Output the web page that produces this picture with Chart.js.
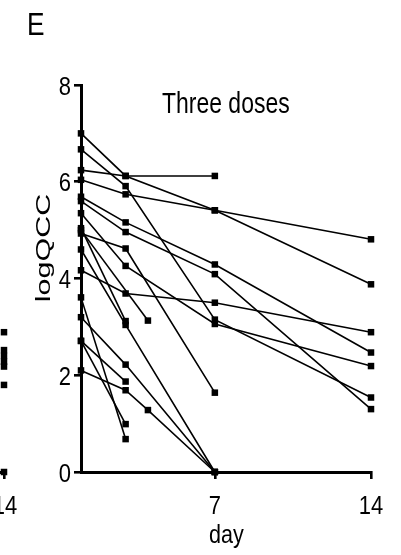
<!DOCTYPE html>
<html>
<head>
<meta charset="utf-8">
<script src="https://cdn.jsdelivr.net/npm/chart.js@4.4.1/dist/chart.umd.min.js"></script>
<style>
  html, body { margin: 0; padding: 0; background: #fff; }
  body { width: 401px; height: 555px; position: relative; overflow: hidden; }
  #main { position: absolute; left: 0; top: 0; }
  #frag { position: absolute; left: -100px; top: 0; }
  .t { position: absolute; color: #000; white-space: nowrap; line-height: 1; font-family: 'Liberation Sans', Arial, sans-serif; transform-origin: left top; }
</style>
</head>
<body>
<canvas id="frag" width="130" height="555"></canvas>
<canvas id="main" width="401" height="555"></canvas>
<div class="t" id="panel" style="left:27px; top:8px; font-size:32px; transform: scaleX(0.82);">E</div>
<div class="t" id="ttl" style="left:162px; top:89px; font-size:28px; transform: scale(0.82, 1.05);">Three doses</div>
<div class="t" id="xt" style="left:209px; top:521px; font-size:26px; transform: scaleX(0.83);">day</div>
<div class="t" id="yt" style="left:42px; top:248px; font-size:21px; transform-origin: center center; transform: translate(-50%,-50%) rotate(-90deg) scale(1.45,1);">logQCC</div>
<script>
// ---- data (day, log QCC) ----
const xTickVals = [7, 14];
const yTickVals = [0, 2, 4, 6, 8];

const daysA = [1, 3, 7];        const qccA = [6.24, 6.12, 6.12];
const daysB = [1, 3, 7, 14];    const qccB = [6.04, 5.74, 5.41, 4.81];
const daysC = [1, 3, 7, 14];    const qccC = [7.00, 6.12, 5.41, 3.88];
const daysD = [1, 3, 7, 14];    const qccD = [6.67, 5.91, 3.15, 1.54];
const daysE = [1, 3, 7, 14];    const qccE = [5.69, 5.16, 4.29, 2.47];
const daysF = [1, 3, 7, 14];    const qccF = [5.60, 4.96, 4.09, 1.30];
const daysG = [1, 3, 7, 14];    const qccG = [5.35, 4.26, 3.06, 2.19];
const daysH = [1, 3, 7];        const qccH = [4.93, 4.62, 1.64];
const daysI = [1, 3, 7, 14];    const qccI = [4.17, 3.69, 3.50, 2.89];
const daysJ = [1, 3, 7];        const qccJ = [4.60, 3.04, 0];
const daysK = [1, 3, 7];        const qccK = [3.20, 2.22, 0];
const daysL = [1, 3, 4, 7];     const qccL = [2.10, 1.69, 1.28, 0];
const daysM = [1, 4];           const qccM = [5.00, 3.13];
const daysN = [1, 3];           const qccN = [5.04, 3.12];
const daysO = [1, 3];           const qccO = [3.61, 0.68];
const daysP = [1, 3];           const qccP = [2.71, 0.99];
const daysQ = [1, 3];           const qccQ = [2.71, 1.87];

// fragment of the neighbouring panel (only its day-14 points are visible)
const fragDays = [14, 14, 14, 14, 14, 14, 14];
const fragQcc = [2.89, 2.52, 2.40, 2.28, 2.18, 1.80, 0];
const fragXTickVals = [14];

const series = [
  [daysA, qccA], [daysB, qccB], [daysC, qccC], [daysD, qccD], [daysE, qccE],
  [daysF, qccF], [daysG, qccG], [daysH, qccH], [daysI, qccI], [daysJ, qccJ],
  [daysK, qccK], [daysL, qccL], [daysM, qccM], [daysN, qccN], [daysO, qccO],
  [daysP, qccP], [daysQ, qccQ]
];

function mkDataset(days, vals, showLine) {
  return {
    data: days.map((d, i) => ({ x: d, y: vals[i] })),
    borderColor: '#000',
    backgroundColor: '#000',
    borderWidth: 1.6,
    pointStyle: 'rect',
    pointRadius: 4.6,
    pointBorderWidth: 0,
    pointBackgroundColor: '#000',
    showLine: showLine,
    tension: 0,
    clip: false
  };
}

// tall, narrow tick labels (the reference's labels are condensed)
function tickLabelPlugin(xVals, yVals, xShift) {
  return {
    id: 'tallTicks',
    afterDraw(chart) {
      const ctx = chart.ctx;
      ctx.save();
      ctx.fillStyle = '#000';
      ctx.font = "22px 'Liberation Sans', Arial, sans-serif";
      const sx = chart.scales.x;
      xVals.forEach(v => {
        const px = sx.getPixelForValue(v) + xShift;
        ctx.save();
        ctx.translate(px, 514);
        ctx.scale(1, 1.2);
        ctx.textAlign = 'center';
        ctx.textBaseline = 'alphabetic';
        ctx.fillText(String(v), 0, 0);
        ctx.restore();
      });
      const sy = chart.scales.y;
      if (sy && sy.options.display) {
        yVals.forEach(v => {
          const py = sy.getPixelForValue(v);
          ctx.save();
          ctx.translate(sy.right - 10, py + 9.5);
          ctx.scale(1, 1.2);
          ctx.textAlign = 'right';
          ctx.textBaseline = 'alphabetic';
          ctx.fillText(String(v), 0, 0);
          ctx.restore();
        });
      }
      ctx.restore();
    }
  };
}

function axes(showY, xVals) {
  const gridOpts = { drawOnChartArea: false, drawTicks: true, tickLength: 7, tickWidth: 2.6, tickColor: '#000', lineWidth: 2.6, color: '#000' };
  return {
    x: {
      type: 'linear', min: 1, max: 14,
      afterBuildTicks: s => { s.ticks = xVals.map(v => ({ value: v })); },
      afterFit: s => { s.height = 83; },
      grid: gridOpts,
      border: { display: true, color: '#000', width: 3 },
      ticks: { display: false }
    },
    y: {
      display: showY,
      type: 'linear', min: 0, max: 8,
      afterBuildTicks: s => { s.ticks = yTickVals.map(v => ({ value: v })); },
      afterFit: s => { s.width = 81; },
      grid: gridOpts,
      border: { display: true, color: '#000', width: 3 },
      ticks: { display: false }
    }
  };
}

new Chart(document.getElementById('main'), {
  type: 'scatter',
  data: { datasets: series.map(s => mkDataset(s[0], s[1], true)) },
  options: {
    responsive: false, animation: false, devicePixelRatio: 1,
    layout: { autoPadding: false, padding: { top: 85, right: 30, left: 0, bottom: 0 } },
    plugins: { legend: { display: false }, tooltip: { enabled: false }, title: { display: false } },
    scales: axes(true, xTickVals)
  },
  plugins: [tickLabelPlugin(xTickVals, yTickVals, 0)]
});

new Chart(document.getElementById('frag'), {
  type: 'scatter',
  data: { datasets: [mkDataset(fragDays, fragQcc, false)] },
  options: {
    responsive: false, animation: false, devicePixelRatio: 1,
    layout: { autoPadding: false, padding: { top: 85, right: 26, left: 0, bottom: 0 } },
    plugins: { legend: { display: false }, tooltip: { enabled: false } },
    scales: axes(false, fragXTickVals)
  },
  plugins: [tickLabelPlugin(fragXTickVals, [], 1)]
});
</script>
</body>
</html>
